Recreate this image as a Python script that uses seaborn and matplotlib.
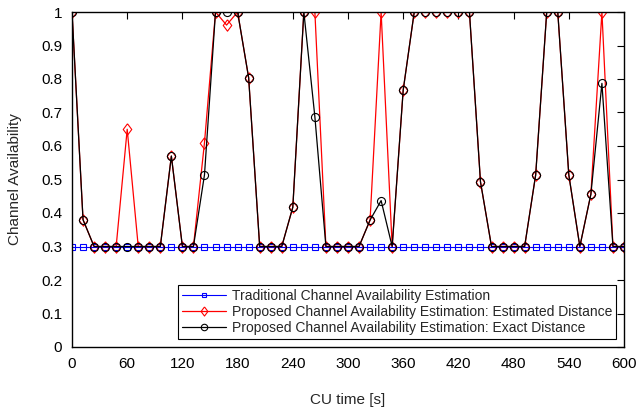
import numpy as np
import pandas as pd
import matplotlib
matplotlib.use("Agg")
import matplotlib.pyplot as plt
import seaborn as sns

sns.set_theme(style="white")
plt.rcParams['font.family'] = ['Liberation Sans', 'DejaVu Sans']

cu_time = list(range(0, 601, 12))
traditional = [0.3] * len(cu_time)
exact = [1.0, 0.38, 0.3, 0.3, 0.3, 0.3, 0.3, 0.3, 0.3, 0.57,
         0.3, 0.3, 0.514, 1.0, 1.0, 1.0, 0.804, 0.3, 0.3, 0.3,
         0.417, 1.0, 0.687, 0.3, 0.3, 0.3, 0.3, 0.379, 0.437, 0.3,
         0.767, 1.0, 1.0, 1.0, 1.0, 1.0, 1.0, 0.493, 0.3, 0.3,
         0.3, 0.3, 0.514, 1.0, 1.0, 0.514, 0.3, 0.456, 0.787, 0.3, 0.3]
estimated = [1.0, 0.38, 0.3, 0.3, 0.3, 0.65, 0.3, 0.3, 0.3, 0.57,
             0.3, 0.3, 0.61, 1.0, 0.961, 1.0, 0.804, 0.3, 0.3, 0.3,
             0.417, 1.0, 1.0, 0.3, 0.3, 0.3, 0.3, 0.379, 1.0, 0.3,
             0.767, 1.0, 1.0, 1.0, 1.0, 1.0, 1.0, 0.493, 0.3, 0.3,
             0.3, 0.3, 0.514, 1.0, 1.0, 0.514, 0.3, 0.456, 1.0, 0.3, 0.3]
labels = ["Traditional Channel Availability Estimation",
          "Proposed Channel Availability Estimation: Estimated Distance",
          "Proposed Channel Availability Estimation: Exact Distance"]

diamond = [(0, 1), (0.75, 0), (0, -1), (-0.75, 0), (0, 1)]

fig = plt.figure(figsize=(6.38, 4.08), dpi=100)
ax = fig.add_axes([72/638, 1-347/408, (624-72)/638, (347-12)/408])

sns.lineplot(x=cu_time, y=traditional, ax=ax, color="#0000ff", lw=0.8,
             marker="s", markersize=4.3, markerfacecolor="none",
             markeredgecolor="#0000ff", markeredgewidth=0.8, label=labels[0])
sns.lineplot(x=cu_time, y=estimated, ax=ax, color="#ff0000", lw=0.9,
             marker=diamond, markersize=8.2, markerfacecolor="none",
             markeredgecolor="#ff0000", markeredgewidth=0.8, label=labels[1])
sns.lineplot(x=cu_time, y=exact, ax=ax, color="black", lw=0.9,
             marker="o", markersize=5.8, markerfacecolor="none",
             markeredgecolor="black", markeredgewidth=0.8, label=labels[2])

ax.set_xlim(0, 600)
ax.set_ylim(0, 1)
ax.set_xticks(range(0, 601, 60))
ax.set_yticks(np.arange(0, 1.01, 0.1))
ax.set_yticklabels(["0", "0.1", "0.2", "0.3", "0.4", "0.5", "0.6", "0.7", "0.8", "0.9", "1"])
ax.tick_params(direction="in", length=5, width=0.8, top=True, right=True,
               labelsize=11, colors="black", pad=7)
for s in ax.spines.values():
    s.set_color("black")
    s.set_linewidth(1.0)
ax.set_xlabel("CU time [s]", fontsize=11, labelpad=16)
ax.set_ylabel("Channel Availability", fontsize=11, labelpad=14)

leg = ax.legend(loc="lower right", fontsize=10, frameon=True, fancybox=False,
                edgecolor="black", framealpha=1, borderpad=0.3, labelspacing=0.15,
                handlelength=3.2, handletextpad=0.4, borderaxespad=0.55,
                markerscale=0.8)
leg.get_frame().set_linewidth(0.8)

fig.savefig("out.png", dpi=100)
